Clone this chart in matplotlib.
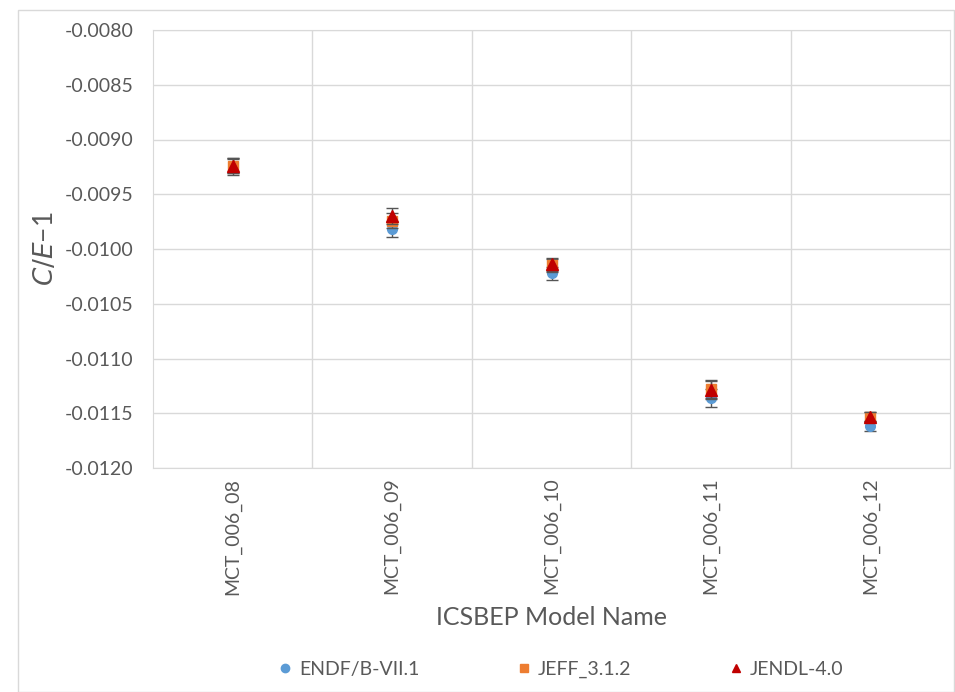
import matplotlib.pyplot as plt
import matplotlib.patches as mpatches
from matplotlib.lines import Line2D
import numpy as np

plt.rcParams['font.family'] = ['Lato', 'DejaVu Sans']

# ICSBEP cases and C/E-1 values
models = ['MCT_006_08', 'MCT_006_09', 'MCT_006_10', 'MCT_006_11', 'MCT_006_12']
endf = [-0.00925, -0.00982, -0.01022, -0.01136, -0.01162]
jeff = [-0.00924, -0.00974, -0.01015, -0.01128, -0.01153]
jendl = [-0.00924, -0.00970, -0.01014, -0.01129, -0.01153]
err = [0.00007, 0.00007, 0.00006, 0.00008, 0.00004]

x = np.arange(len(models))

fig = plt.figure(figsize=(9.55, 6.92), dpi=100)
ax = fig.add_axes((153/955, 1 - 468/692, 797/955, 438/692))

# light border around the whole chart, as in Excel
fig.patches.append(mpatches.Rectangle((18/955, 0), 1 - 18/955 - 0.001, 1 - 10/692,
                                      transform=fig.transFigure, fill=False,
                                      edgecolor='#D9D9D9', linewidth=1))

ax.errorbar(x, endf, yerr=err, fmt='o', color='#5B9BD5', ms=7, ecolor='#555555',
            elinewidth=1, capsize=4, capthick=1, zorder=3)
ax.errorbar(x, jeff, yerr=err, fmt='s', color='#ED7D31', ms=7, ecolor='#555555',
            elinewidth=1, capsize=4, capthick=1, zorder=4)
ax.errorbar(x, jendl, yerr=err, fmt='^', color='#C00000', ms=8, ecolor='#555555',
            elinewidth=1, capsize=4, capthick=1, zorder=5)

ax.set_xlim(-0.5, len(models) - 0.5)
ax.set_ylim(-0.0120, -0.0080)
yt = np.arange(-0.0120, -0.00799, 0.0005)
ax.set_yticks(yt)
ax.set_yticklabels(['%.4f' % v for v in yt])
ax.set_xticks(x)
ax.set_xticklabels(models, rotation=90)
ax.set_xticks(np.arange(0.5, len(models) - 0.5), minor=True)

ax.grid(True, axis='y', color='#D9D9D9', linewidth=1)
ax.grid(True, axis='x', which='minor', color='#D9D9D9', linewidth=1)
ax.set_axisbelow(True)
for s in ax.spines.values():
    s.set_color('#D9D9D9')

ax.tick_params(axis='both', which='both', length=0, labelsize=14, colors='#595959')
ax.tick_params(axis='y', pad=14)
ax.tick_params(axis='x', pad=7)

ax.set_xlabel('ICSBEP Model Name', fontsize=18, color='#595959', labelpad=8)
ax.set_ylabel(r'$C/E$$\mathregular{-1}$', fontsize=19, color='#595959', labelpad=5)

handles = [
    Line2D([], [], ls='none', marker='o', color='#5B9BD5', ms=6),
    Line2D([], [], ls='none', marker='s', color='#ED7D31', ms=6),
    Line2D([], [], ls='none', marker='^', color='#C00000', ms=6),
]
fig.legend(handles, ['ENDF/B-VII.1', 'JEFF_3.1.2', 'JENDL-4.0'],
           loc='lower center', bbox_to_anchor=(0.585, -0.005), ncol=3, frameon=False,
           fontsize=14, labelcolor='#595959', handletextpad=0.1, columnspacing=4.8,
           handlelength=1.2)

fig.savefig('out.png', dpi=100)
